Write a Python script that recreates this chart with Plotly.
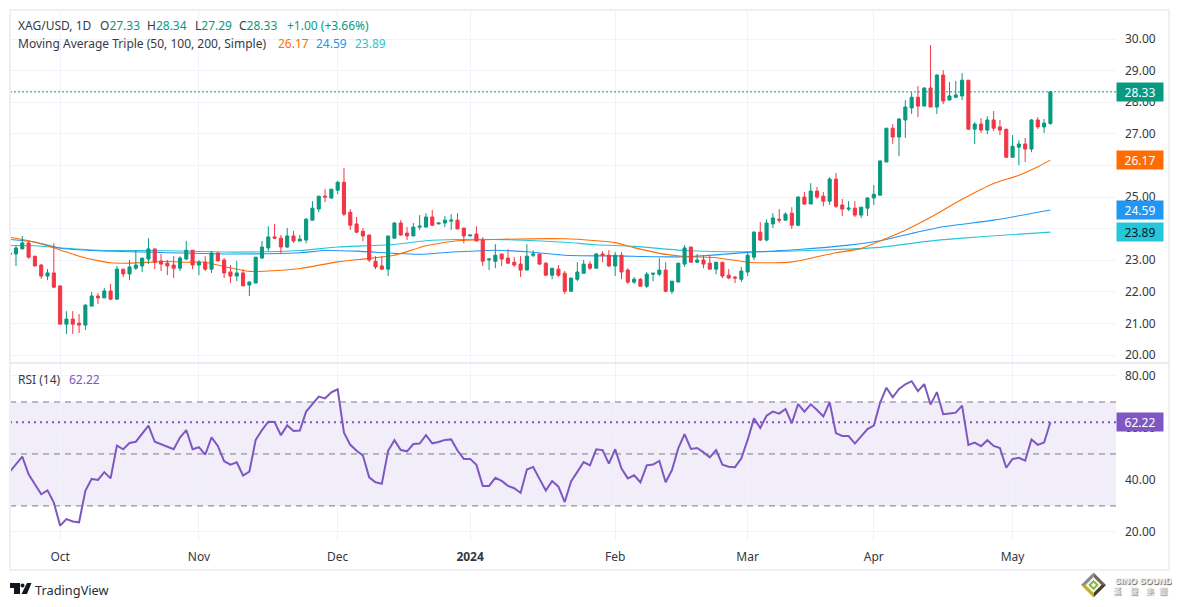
import plotly.graph_objects as go
from plotly.subplots import make_subplots

# daily bars (index 0 = first bar visible)
open_ = [23.18,23.20,23.36,23.55,23.13,22.85,22.50,22.60,22.19,20.98,
         21.14,21.01,20.95,21.55,21.87,21.81,22.03,21.77,22.72,22.57,
         22.75,22.82,23.04,23.36,22.98,22.91,22.85,22.75,23.04,23.32,
         22.85,22.94,22.72,23.23,23.01,22.63,22.50,22.60,22.22,22.28,
         23.07,23.39,23.74,23.70,23.42,23.77,23.61,23.64,24.27,24.62,
         25.03,24.97,25.22,25.47,24.52,24.15,23.92,23.80,22.97,22.82,
         22.72,23.70,24.18,23.86,23.77,24.05,24.05,24.37,24.15,24.18,
         24.24,24.27,24.02,23.77,23.83,23.64,23.01,22.97,23.20,23.07,
         22.94,22.88,22.69,23.16,23.20,22.91,22.53,22.72,22.59,22.02,
         22.40,22.59,22.88,22.75,23.20,23.16,22.82,23.16,22.69,22.31,
         22.40,22.18,22.56,22.56,22.69,22.02,22.31,22.88,23.42,22.94,
         23.01,22.91,22.72,22.94,22.53,22.47,22.40,22.63,23.10,23.89,
         23.64,24.15,24.30,24.27,24.49,24.11,25.00,24.78,25.19,25.03,
         24.87,25.57,24.75,24.62,24.65,24.43,24.65,24.97,25.06,26.11,
         27.18,26.90,27.44,27.82,28.16,27.88,28.45,27.85,28.86,28.07,
         28.16,28.20,28.70,27.15,27.31,27.12,27.44,27.22,27.15,26.26,
         26.58,26.68,26.52,27.44,27.22,27.33]
high = [23.57,23.46,23.77,23.62,23.13,22.88,22.72,23.54,22.19,21.39,
        21.39,21.30,21.62,22.00,21.96,22.12,22.25,22.82,22.72,23.01,
        23.32,23.07,23.70,23.36,23.20,23.01,23.13,23.13,23.61,23.32,
        23.01,23.13,23.29,23.26,23.07,22.85,22.98,22.72,22.34,23.10,
        23.61,24.08,24.15,23.80,24.02,23.93,23.80,24.34,24.87,25.03,
        25.25,25.25,25.51,25.92,24.62,24.37,24.02,23.80,23.13,23.13,
        23.77,24.21,24.27,24.05,24.18,24.43,24.49,24.59,24.18,24.40,
        24.46,24.49,24.02,23.80,24.08,23.73,23.07,23.51,23.20,23.35,
        23.10,23.13,23.51,23.32,23.20,22.94,22.75,22.85,22.66,22.44,
        22.94,23.01,22.97,23.23,23.29,23.32,23.26,23.26,22.75,22.47,
        22.44,22.63,22.59,23.07,22.94,22.34,22.91,23.48,23.42,23.20,
        23.16,23.16,22.94,22.94,22.72,22.50,22.79,23.26,23.92,24.21,
        24.30,24.49,24.62,24.52,24.68,25.03,25.16,25.44,25.32,25.16,
        25.63,25.76,24.94,24.87,24.87,24.68,25.00,25.38,26.17,27.18,
        27.31,27.50,28.07,28.32,28.51,28.48,29.81,28.89,29.02,28.64,
        28.67,28.92,28.70,27.37,27.50,27.56,27.72,27.44,27.15,26.96,
        26.80,26.87,27.47,27.53,27.47,28.34]
low = [23.05,22.82,23.36,23.05,22.82,22.41,22.37,22.12,20.98,20.67,
       20.67,20.70,20.79,21.55,21.62,21.81,21.74,21.77,22.47,22.37,
       22.69,22.63,22.88,22.72,22.66,22.53,22.44,22.66,23.01,22.72,
       22.53,22.66,22.60,22.98,22.44,22.28,22.34,22.19,21.87,22.28,
       23.04,23.29,23.67,23.23,23.39,23.55,23.61,23.54,24.27,24.52,
       24.84,24.94,25.09,24.40,23.96,23.86,23.60,22.94,22.72,22.69,
       22.50,23.70,23.77,23.64,23.77,23.96,24.05,24.08,24.15,24.05,
       23.96,23.99,23.54,23.77,23.61,22.82,22.69,22.75,22.82,22.88,
       22.79,22.47,22.69,23.10,22.85,22.50,22.40,22.47,21.93,22.02,
       22.34,22.59,22.69,22.75,22.94,22.79,22.50,22.40,22.25,22.25,
       22.18,22.12,22.34,22.50,21.99,21.93,22.31,22.79,22.94,22.91,
       22.75,22.72,22.56,22.44,22.40,22.28,22.31,22.50,23.01,23.61,
       23.60,24.02,24.18,24.27,23.99,24.08,24.75,24.78,24.94,24.71,
       24.75,24.65,24.40,24.56,24.37,24.34,24.40,24.75,25.06,26.11,
       26.68,26.30,26.87,27.63,27.53,27.88,27.85,27.63,27.94,28.07,
       28.13,28.07,27.12,26.68,27.03,26.99,27.09,26.96,26.26,26.26,
       26.01,26.11,26.42,27.15,27.03,27.29]
close = [23.23,23.39,23.55,23.10,22.82,22.50,22.60,22.15,20.98,21.14,
         20.98,20.95,21.58,21.87,21.81,22.03,21.77,22.72,22.57,22.79,
         22.85,23.07,23.36,22.94,22.88,22.82,22.75,23.07,23.32,22.85,
         22.94,22.72,23.23,22.98,22.60,22.50,22.60,22.19,22.31,23.10,
         23.42,23.74,23.70,23.42,23.77,23.61,23.67,24.30,24.65,25.03,
         25.00,25.25,25.47,24.46,24.11,23.89,23.77,23.01,22.79,22.72,
         23.77,24.18,23.80,23.77,24.05,24.08,24.37,24.11,24.18,24.27,
         24.27,23.99,23.77,23.80,23.61,22.97,23.04,23.16,23.04,22.91,
         22.85,22.69,23.13,23.20,22.88,22.53,22.75,22.53,22.02,22.44,
         22.63,22.88,22.75,23.20,23.16,22.82,23.16,22.63,22.31,22.40,
         22.18,22.56,22.59,22.69,22.02,22.34,22.91,23.39,22.94,23.01,
         22.88,22.72,22.94,22.50,22.44,22.44,22.66,23.16,23.89,23.64,
         24.18,24.34,24.27,24.46,24.11,25.00,24.78,25.19,25.00,24.87,
         25.57,24.71,24.62,24.65,24.43,24.68,24.97,25.09,26.14,27.18,
         26.90,27.47,27.85,28.16,27.88,28.45,27.85,28.86,28.04,28.20,
         28.23,28.70,27.15,27.31,27.12,27.44,27.18,27.12,26.26,26.61,
         26.68,26.52,27.44,27.22,27.34,28.33]

# moving averages, read at the bars where the curve changes
ma50_idx = [0,3,6,9,11,14,16,19,25,28,31,34,38,41,46,52,57,61,66,71,77,88,93,96,99,103,107,112,117,120,124,128,131,135,138,142,146,151,156,160,163,165]
ma50 = [23.73,23.62,23.46,23.26,23.13,22.99,22.92,22.91,22.96,22.94,22.94,22.80,22.65,22.66,22.74,22.95,23.06,23.16,23.46,23.62,23.66,23.68,23.62,23.56,23.40,23.22,23.12,23.08,22.94,22.92,22.95,23.11,23.24,23.37,23.61,23.95,24.36,24.93,25.43,25.69,25.96,26.17]
ma100_idx = [0,4,8,14,25,36,46,50,55,61,65,71,77,82,88,93,96,107,117,125,133,138,143,148,156,165]
ma100 = [23.66,23.58,23.38,23.30,23.24,23.20,23.24,23.31,23.29,23.22,23.19,23.27,23.32,23.27,23.16,23.14,23.14,23.11,23.25,23.34,23.48,23.62,23.85,24.06,24.27,24.59]
ma200_idx = [0,4,9,14,25,36,46,52,61,66,71,77,88,93,99,107,117,128,138,145,151,158,165]
ma200 = [23.47,23.46,23.38,23.32,23.30,23.26,23.31,23.42,23.50,23.62,23.66,23.66,23.57,23.49,23.44,23.31,23.27,23.32,23.41,23.59,23.70,23.80,23.89]

rsi = [43.1,46.2,49.0,42.2,38.3,34.5,36.0,31.3,22.4,24.9,
       24.0,23.7,35.8,40.4,40.0,43.0,40.6,53.2,51.8,54.2,
       54.7,57.7,60.9,54.7,53.8,52.8,51.8,56.3,59.2,51.8,
       52.6,49.7,56.4,53.1,47.2,45.9,46.8,41.7,43.2,55.4,
       59.2,62.4,62.3,57.2,61.0,58.8,59.0,66.3,69.2,72.1,
       71.4,73.7,74.9,58.2,53.5,51.2,49.4,41.0,39.1,38.5,
       51.2,55.3,51.5,51.0,53.8,54.0,57.2,54.1,54.6,55.4,
       55.6,51.3,48.1,48.1,45.8,37.7,37.7,40.8,39.6,37.7,
       36.8,35.0,44.0,45.0,40.4,35.9,39.6,37.4,31.5,39.4,
       43.1,46.9,45.6,51.8,51.5,46.3,51.8,44.4,40.6,41.8,
       39.1,45.6,45.9,47.3,39.1,43.8,52.2,57.6,51.9,52.3,
       50.6,48.7,51.5,45.9,45.1,44.9,48.3,55.4,63.7,60.0,
       64.7,66.3,65.5,67.3,61.8,69.2,66.3,69.1,66.9,64.4,
       69.9,58.0,56.9,56.9,54.0,56.7,59.6,60.9,69.7,75.5,
       71.8,75.0,76.8,78.0,74.2,76.9,69.0,73.8,65.3,65.6,
       65.9,68.6,53.5,54.4,53.0,55.3,53.1,52.3,44.7,48.1,
       48.5,47.4,55.6,53.5,54.4,62.22]

month_idx = [8,30,52,73,96,117,137,159]
month_labels = ["Oct","Nov","Dec","<b>2024</b>","Feb","Mar","Apr","May"]
price_ticks = [20,21,22,23,24,25,26,27,28,29,30]
# 24 and 26 sit fully behind the moving average tags
price_labels = ["20.00","21.00","22.00","23.00","","25.00","","27.00","28.00","29.00","30.00"]
rsi_ticks = [20,40,60,80]
rsi_labels = ["20.00","40.00","60.00","80.00"]

GREEN = "#089981"
RED = "#F23645"
ORANGE = "#FF6D00"
BLUE = "#2196F3"
TEAL = "#26C6DA"
PURPLE = "#7E57C2"
GRID = "#f0f3fa"
FONT = "Noto Sans"
# page body has an 8px margin, so the figure is kept inside the window
OFF = 8
W, H = 1180 - 2 * OFF, 607 - 2 * OFF


def px(x):
    return (x - OFF) / W


def py(y):
    return 1 - (y - OFF) / H


bars = list(range(len(close)))

fig = make_subplots(rows=2, cols=1, shared_xaxes=True)

for xs, ys, col in [(ma200_idx, ma200, TEAL), (ma100_idx, ma100, BLUE), (ma50_idx, ma50, ORANGE)]:
    fig.add_trace(go.Scatter(x=xs, y=ys, mode="lines", zorder=-1, hoverinfo="skip",
                             line=dict(color=col, width=1.1, shape="spline", smoothing=0.6)), row=1, col=1)

fig.add_trace(go.Candlestick(x=bars, open=open_, high=high, low=low, close=close, whiskerwidth=0,
                             increasing=dict(line=dict(color=GREEN, width=1), fillcolor=GREEN),
                             decreasing=dict(line=dict(color=RED, width=1), fillcolor=RED)), row=1, col=1)

fig.add_trace(go.Scatter(x=bars, y=rsi, mode="lines", hoverinfo="skip",
                         line=dict(color=PURPLE, width=2)), row=2, col=1)

axis_font = dict(family=FONT, size=12, color="#333842")
x_range = [0.05, 175.4]
fig.update_xaxes(range=x_range, tickmode="array", tickvals=month_idx, ticktext=month_labels,
                 showgrid=True, gridcolor=GRID, gridwidth=1, zeroline=False, showline=False, ticks="",
                 rangeslider_visible=False, tickfont=axis_font)
fig.update_yaxes(side="right", showgrid=True, gridcolor=GRID, gridwidth=1, zeroline=False, showline=False,
                 ticks="", tickfont=axis_font, tickmode="array", ticklabelstandoff=8)

fig.update_layout(
    width=W, height=H, autosize=False, showlegend=False,
    margin=dict(l=0, r=0, t=0, b=0), paper_bgcolor="white", plot_bgcolor="white",
    boxgap=0.3,
    xaxis=dict(domain=[px(10), px(1116)], showticklabels=False),
    xaxis2=dict(domain=[px(10), px(1116)], ticklabelstandoff=7),
    yaxis=dict(domain=[py(363), py(10)], range=[19.75, 30.92], tickvals=price_ticks, ticktext=price_labels),
    yaxis2=dict(domain=[py(541), py(363)], range=[16.5, 85], tickvals=rsi_ticks, ticktext=rsi_labels),
)

# RSI band, levels and last value lines
fig.add_shape(type="rect", xref="paper", yref="y2", x0=px(10), x1=px(1116), y0=30, y1=70,
              fillcolor="rgba(126,87,194,0.1)", line_width=0, layer="below")
for lvl in [70, 50, 30]:
    fig.add_shape(type="line", xref="paper", yref="y2", x0=px(10), x1=px(1116), y0=lvl, y1=lvl,
                  line=dict(color="#787B86", width=1, dash="6px,5px"))
fig.add_shape(type="line", xref="paper", yref="y2", x0=px(10), x1=px(1116), y0=rsi[-1], y1=rsi[-1],
              line=dict(color=PURPLE, width=2, dash="2px,4px"))
fig.add_shape(type="line", xref="paper", yref="y", x0=px(10), x1=px(1116), y0=close[-1], y1=close[-1],
              line=dict(color=GREEN, width=1, dash="2px,2px"))

# frame and pane separator
fig.add_shape(type="rect", xref="paper", yref="paper", x0=px(10), x1=px(1169), y0=py(570), y1=py(10),
              line=dict(color="#eef0f6", width=2), layer="above")
fig.add_shape(type="line", xref="paper", yref="paper", x0=px(10), x1=px(1169), y0=py(363), y1=py(363),
              line=dict(color="#e4e6ec", width=1.5))


def label(x, y, text, color="#363a45", size=12, family=FONT, **kw):
    fig.add_annotation(xref="paper", yref="paper", x=px(x - 2), y=py(y), text=text, showarrow=False,
                       xanchor="left", yanchor="middle", align="left",
                       font=dict(family=family, size=size, color=color), **kw)


def tag(value, text, bg, yref="y", color="white"):
    fig.add_annotation(xref="paper", yref=yref, x=px(1116), y=value, text=text, showarrow=False,
                       xanchor="left", yanchor="middle", width=46, height=18, bgcolor=bg, borderpad=0,
                       font=dict(family=FONT, size=12, color=color))


def g(t):
    return f'<span style="color:{GREEN}">{t}</span>'


# legend rows
label(18, 26, "XAG/USD, 1D")
label(100, 26, "O" + g(f"{open_[-1]:.2f}"))
label(147, 26, "H" + g(f"{high[-1]:.2f}"))
label(195, 26, "L" + g(f"{low[-1]:.2f}"))
label(239, 26, "C" + g(f"{close[-1]:.2f}"))
label(287, 26, "+1.00 (+3.66%)", color=GREEN)
label(18, 44, "Moving Average Triple (50, 100, 200, Simple)")
label(278, 44, f"{ma50[-1]:.2f}", color=ORANGE)
label(316, 44, f"{ma100[-1]:.2f}", color=BLUE)
label(355, 44, f"{ma200[-1]:.2f}", color=TEAL)
label(18, 379, "RSI (14)")
label(69, 379, f"{rsi[-1]:.2f}", color=PURPLE)

# price scale tags
tag(close[-1], f"{close[-1]:.2f}", GREEN)
tag(ma50[-1], f"{ma50[-1]:.2f}", ORANGE)
tag(ma100[-1], f"{ma100[-1]:.2f}", BLUE)
tag(ma200[-1], f"{ma200[-1]:.2f}", TEAL, color="#131722")
tag(rsi[-1], f"{rsi[-1]:.2f}", PURPLE, yref="y2")


def poly(pts, color):
    path = "M" + " L".join(f"{px(a):.5f},{py(b):.5f}" for a, b in pts) + " Z"
    fig.add_shape(type="path", xref="paper", yref="paper", path=path, fillcolor=color, line_width=0, layer="above")


# TradingView mark
poly([(10, 583), (20, 583), (20, 594), (14, 594), (14, 588), (10, 588)], "#131722")
poly([(27, 583), (31.5, 583), (27, 594), (21.5, 594)], "#131722")
fig.add_shape(type="circle", xref="paper", yref="paper", x0=px(20.5), x1=px(24.5), y0=py(587.5), y1=py(583.5),
              fillcolor="#131722", line_width=0, layer="above")
label(35, 590, "TradingView", size=12.8, color="#2a2e39")

# Sino Sound mark
cx, cy = 1093.5, 585
poly([(cx - 12.5, cy), (cx, cy - 12.5), (cx, cy)], "#8a8a8a")
poly([(cx, cy - 12.5), (cx + 12.5, cy), (cx, cy)], "#6f675c")
poly([(cx + 12.5, cy), (cx, cy + 12.5), (cx, cy)], "#4a3a20")
poly([(cx - 12.5, cy), (cx, cy + 12.5), (cx, cy)], "#c2ae2c")
poly([(cx - 8, cy), (cx, cy - 8), (cx + 8, cy), (cx, cy + 8)], "#f4f4ee")
poly([(cx - 5, cy), (cx, cy - 5), (cx + 5, cy), (cx, cy + 5)], "#7fb236")
poly([(cx - 2.5, cy), (cx, cy - 2.5), (cx + 2.5, cy), (cx, cy + 2.5)], "#f4f4ee")
fig.add_annotation(xref="paper", yref="paper", x=px(1113), y=py(580.5), text="<b>SINO SOUND</b>", showarrow=False,
                   xanchor="left", yanchor="middle",
                   font=dict(family="Liberation Sans", size=9, color="#f2f2f2", shadow="1px 1px 1px #555"))
for x, ch in zip([1117, 1134, 1150, 1163], "漢聲集團"):
    fig.add_annotation(xref="paper", yref="paper", x=px(x), y=py(590.5), text=ch, showarrow=False,
                       xanchor="center", yanchor="middle",
                       font=dict(family="Noto Sans CJK TC", size=8, color="#f2f2f2", shadow="1px 1px 1px #555"))

fig.write_html("out.html")
